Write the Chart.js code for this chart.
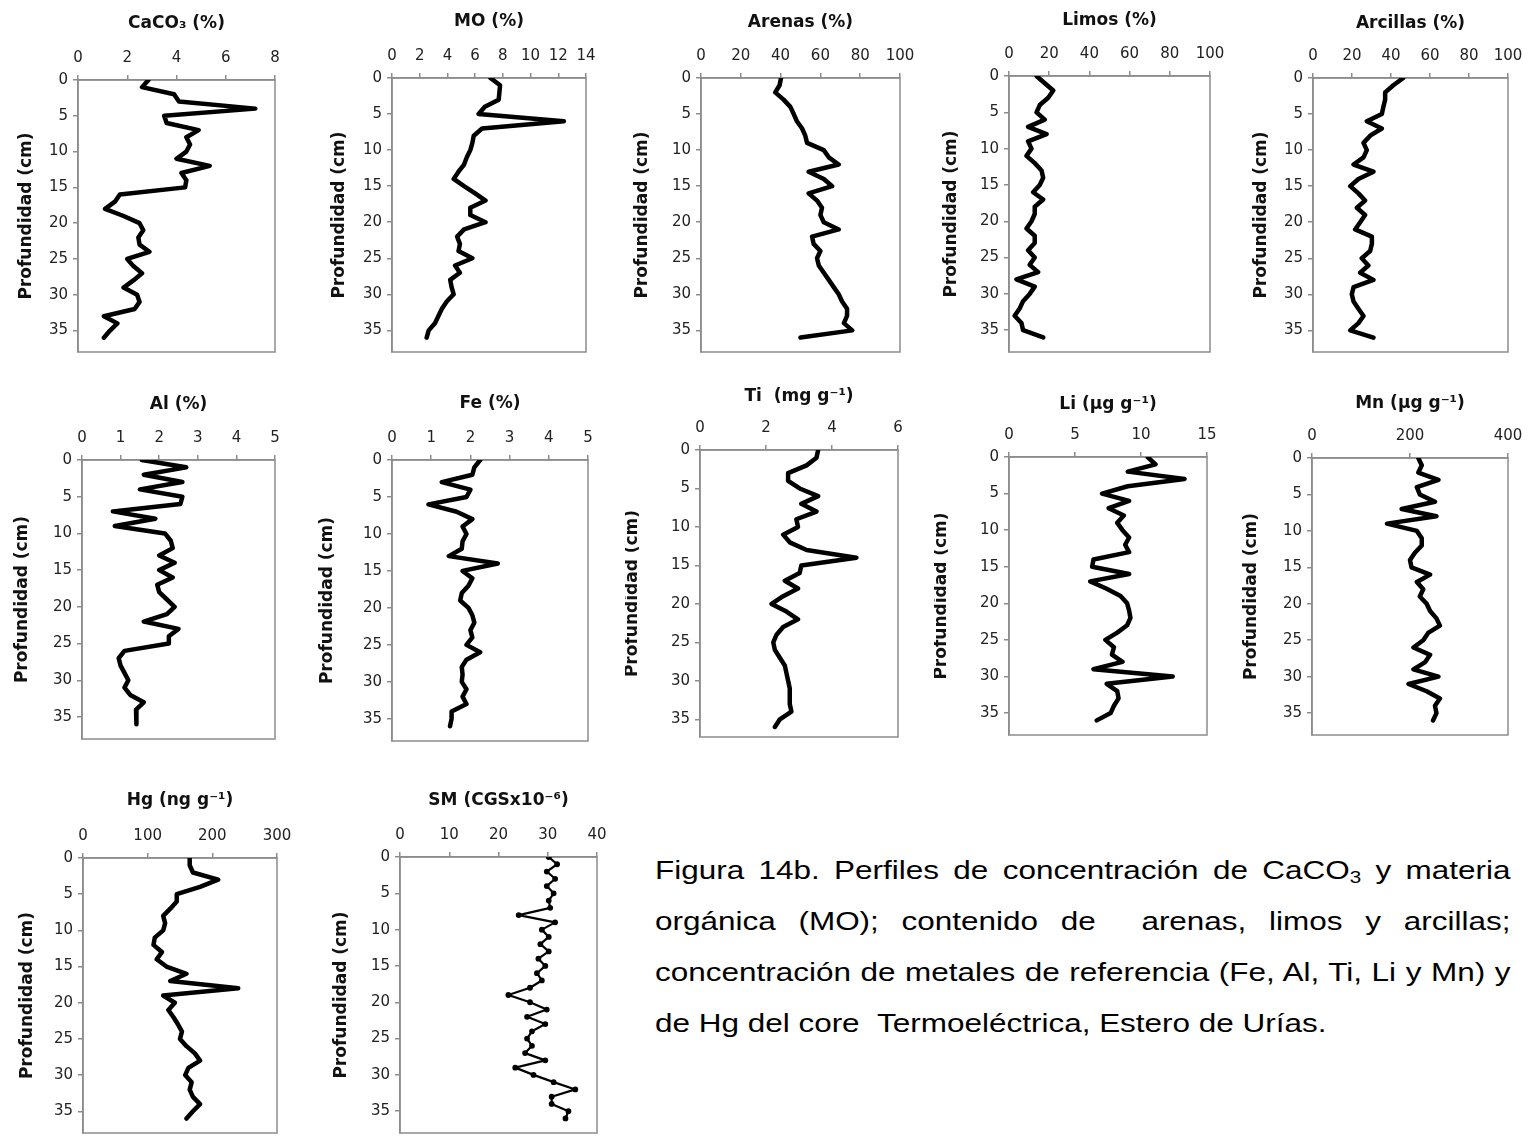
<!DOCTYPE html>
<html>
<head>
<meta charset="utf-8">
<script src="https://cdn.jsdelivr.net/npm/chart.js@4.4.0/dist/chart.umd.min.js"></script>
<style>
    body { margin: 0; width: 1532px; height: 1136px; overflow: hidden; background: #fff; position: relative; }
    canvas { position: absolute; }
    .caption { position: absolute; left: 655px; top: 845px; width: 707px; font-family: "Liberation Sans", Arial, sans-serif; font-size: 26px; line-height: 51px; color: #000; transform: scaleX(1.21); transform-origin: left top; }
    .caption div { height: 51px; text-align: justify; text-align-last: justify; }
    .caption div.last { text-align: left; text-align-last: left; }
    .caption sub { font-size: 17px; line-height: 0; vertical-align: -4px; }
</style>
</head>
<body>
<div class="caption">
    <div>Figura 14b. Perfiles de concentración de CaCO<sub>3</sub> y materia</div>
    <div>orgánica (MO); contenido de &nbsp;arenas, limos y arcillas;</div>
    <div>concentración de metales de referencia (Fe, Al, Ti, Li y Mn) y</div>
    <div class="last">de Hg del core &nbsp;Termoeléctrica, Estero de Urías.</div>
</div>
<script>
// profundidad (cm)
const depth = [0, 1, 2, 3, 4, 5, 6, 7, 8, 9, 10, 11, 12, 13, 14, 15, 16, 17, 18, 19, 20, 21, 22, 23, 24, 25, 26, 27, 28, 29, 30, 31, 32, 33, 34, 35, 36];

const caco3 = [2.86, 2.6, 3.9, 4.1, 7.2, 3.5, 3.6, 4.9, 4.4, 4.55, 4.4, 4.0, 5.35, 4.2, 4.4, 4.35, 1.7, 1.5, 1.1, 1.85, 2.5, 2.65, 2.45, 2.5, 2.9, 2.0, 2.25, 2.6, 2.25, 1.85, 2.4, 2.5, 2.3, 1.05, 1.6, 1.3, 1.05];
const mo = [7.1, 7.8, 7.75, 7.7, 6.7, 6.25, 12.4, 6.5, 5.9, 5.8, 5.65, 5.4, 5.2, 4.8, 4.45, 5.2, 6.0, 6.75, 5.65, 5.65, 6.75, 5.2, 4.7, 4.9, 4.8, 5.8, 4.55, 4.9, 4.2, 4.3, 4.45, 3.95, 3.6, 3.35, 3.1, 2.65, 2.5];
const arenas = [40.2, 39.5, 37.3, 41.5, 44.9, 46.6, 48.2, 50.8, 52.4, 53.3, 61.7, 64.2, 69.2, 54.1, 61.7, 65.9, 54.1, 58.3, 60.8, 60.0, 61.7, 69.2, 55.8, 56.6, 60.0, 58.3, 59.2, 61.7, 64.2, 66.7, 69.2, 70.9, 73.4, 73.4, 71.8, 76.0, 50.0];
const limos = [13.7, 17.8, 22.0, 19.5, 15.3, 13.7, 17.8, 9.5, 18.7, 9.5, 11.2, 8.7, 12.8, 16.2, 17.0, 15.3, 12.0, 17.0, 12.8, 12.8, 11.2, 8.7, 12.8, 12.8, 9.5, 12.8, 10.3, 14.5, 3.7, 12.8, 10.3, 7.0, 5.3, 2.8, 6.2, 7.0, 17.0];
const arcillas = [46.3, 41.2, 37.0, 37.0, 36.1, 35.3, 27.6, 35.3, 29.3, 25.9, 27.6, 25.9, 20.8, 31.0, 23.3, 19.1, 23.3, 26.7, 22.5, 26.7, 24.2, 21.6, 30.2, 30.2, 29.3, 25.0, 28.4, 24.2, 31.0, 20.8, 19.9, 20.8, 23.3, 25.9, 23.3, 19.1, 31.0];
const al = [1.55, 2.7, 1.6, 2.6, 1.5, 2.6, 2.55, 0.8, 1.9, 0.85, 2.15, 2.3, 2.35, 2.0, 2.4, 2.0, 2.35, 1.95, 2.0, 2.2, 2.4, 2.2, 1.6, 2.5, 2.25, 2.25, 1.1, 0.95, 1.0, 1.1, 1.2, 1.1, 1.25, 1.6, 1.4, 1.4, 1.42];
const fe = [2.25, 2.1, 2.05, 1.27, 2.0, 1.9, 0.93, 1.65, 2.05, 1.8, 1.9, 1.8, 1.78, 1.45, 2.7, 1.8, 2.05, 1.95, 1.78, 1.74, 1.95, 2.05, 2.1, 2.0, 2.05, 1.9, 2.25, 1.9, 1.78, 1.8, 1.78, 1.9, 1.8, 1.9, 1.52, 1.52, 1.48];
const ti = [3.58, 3.53, 3.23, 2.67, 2.67, 3.02, 3.58, 3.07, 3.53, 2.92, 2.97, 2.52, 2.72, 3.23, 4.74, 3.07, 3.02, 2.57, 2.97, 2.52, 2.17, 2.62, 2.97, 2.52, 2.32, 2.22, 2.27, 2.42, 2.57, 2.62, 2.67, 2.72, 2.72, 2.72, 2.77, 2.42, 2.27];
const li = [10.5, 11.1, 9.0, 13.3, 9.0, 7.05, 9.1, 7.55, 8.7, 8.2, 8.6, 9.1, 8.8, 9.1, 6.4, 6.3, 9.1, 6.15, 7.4, 8.45, 8.95, 9.1, 9.2, 8.95, 8.2, 7.3, 7.95, 7.8, 8.6, 6.4, 12.4, 7.4, 8.2, 8.3, 7.95, 7.7, 6.65];
const mn = [217, 224, 217, 258, 214, 220, 251, 183, 254, 153, 214, 224, 224, 210, 200, 203, 241, 214, 227, 220, 234, 241, 254, 261, 237, 227, 207, 241, 231, 207, 258, 197, 234, 261, 251, 254, 247];
const hg = [165, 165, 170, 209, 181, 145, 145, 135, 124, 127, 124, 111, 109, 122, 114, 129, 160, 135, 240, 124, 142, 132, 140, 147, 153, 150, 160, 173, 181, 163, 158, 168, 165, 170, 181, 170, 160];
const sm = [30.2, 31.9, 29.8, 31.5, 29.8, 31.2, 30.2, 30.5, 24.1, 31.5, 28.8, 30.2, 28.5, 30.2, 28.1, 29.5, 27.8, 28.8, 26.4, 22.0, 26.4, 29.8, 25.8, 29.5, 26.8, 25.8, 26.8, 25.4, 29.5, 23.4, 27.1, 31.2, 35.6, 30.8, 30.8, 34.2, 33.6];

// l, t, r, b = plot area on the page; yt / xt = distance from axis to axis title
const panels = [
    { values: caco3, title: "CaCO₃ (%)", max: 8, step: 2, l: 78, t: 80, r: 275, b: 358, ymax: 38, yt: 51, xt: 56 },
    { values: mo, title: "MO (%)", max: 14, step: 2, l: 392, t: 78, r: 586, b: 358, ymax: 38, yt: 52, xt: 56 },
    { values: arenas, title: "Arenas (%)", max: 100, step: 20, l: 701, t: 78, r: 900, b: 358, ymax: 38, yt: 58, xt: 55 },
    { values: limos, title: "Limos (%)", max: 100, step: 20, l: 1009, t: 76, r: 1210, b: 358, ymax: 38, yt: 57, xt: 55 },
    { values: arcillas, title: "Arcillas (%)", max: 100, step: 20, l: 1313, t: 78, r: 1508, b: 358, ymax: 38, yt: 51, xt: 54 },
    { values: al, title: "Al (%)", max: 5, step: 1, l: 82, t: 460, r: 275, b: 745, ymax: 38, yt: 59, xt: 55 },
    { values: fe, title: "Fe (%)", max: 5, step: 1, l: 392, t: 460, r: 588, b: 747, ymax: 38, yt: 64, xt: 56 },
    { values: ti, title: "Ti  (mg g⁻¹)", max: 6, step: 2, l: 700, t: 450, r: 898, b: 743, ymax: 37.3, yt: 67, xt: 53 },
    { values: li, title: "Li (µg g⁻¹)", max: 15, step: 5, l: 1009, t: 457, r: 1207, b: 741, ymax: 38, yt: 67, xt: 52 },
    { values: mn, title: "Mn (µg g⁻¹)", max: 400, step: 200, l: 1312, t: 458, r: 1508, b: 741, ymax: 38, yt: 60, xt: 54 },
    { values: hg, title: "Hg (ng g⁻¹)", max: 300, step: 100, l: 83, t: 858, r: 277, b: 1139, ymax: 38, yt: 55, xt: 57 },
    { values: sm, title: "SM (CGSx10⁻⁶)", max: 40, step: 10, l: 400, t: 857, r: 597, b: 1139, ymax: 38, yt: 58, xt: 56, thin: true },
];

const AXW = 75;
const AXH = 75;
const PADR = 25;
const PADB = 8;
const FONT = "'DejaVu Sans', Arial, sans-serif";

const frame = {
    id: "frame",
    beforeDatasetsDraw(chart) {
        const a = chart.chartArea;
        const ctx = chart.ctx;
        ctx.save();
        ctx.strokeStyle = "#8c8c8c";
        ctx.lineWidth = 1.5;
        ctx.strokeRect(a.left, a.top, a.right - a.left, a.bottom - a.top);
        ctx.restore();
    },
};

function drawPanel(p) {
    const canvas = document.createElement("canvas");
    const w = p.r - p.l + AXW + PADR;
    const h = p.b - p.t + AXH + PADB;
    canvas.width = w;
    canvas.height = h;
    canvas.style.left = p.l - AXW + "px";
    canvas.style.top = p.t - AXH + "px";
    canvas.style.width = w + "px";
    canvas.style.height = h + "px";
    document.body.appendChild(canvas);

    const points = depth.map((d, i) => ({ x: p.values[i], y: d }));

    new Chart(canvas, {
        type: "scatter",
        data: {
            datasets: [
                {
                    data: points,
                    showLine: true,
                    borderColor: "#000",
                    backgroundColor: "#000",
                    borderWidth: p.thin ? 2.2 : 4.5,
                    borderJoinStyle: "round",
                    borderCapStyle: "round",
                    pointRadius: p.thin ? 1.8 : 0,
                    tension: 0,
                },
            ],
        },
        options: {
            responsive: false,
            animation: false,
            layout: { padding: { top: 0, left: 0, right: PADR, bottom: PADB } },
            plugins: { legend: { display: false }, tooltip: { enabled: false } },
            scales: {
                x: {
                    type: "linear",
                    position: "top",
                    min: 0,
                    max: p.max,
                    afterFit: (s) => { s.height = AXH; },
                    ticks: { stepSize: p.step, padding: 8, color: "#222", font: { family: FONT, size: 15 } },
                    grid: { drawOnChartArea: false, tickLength: 5, color: "#8c8c8c", lineWidth: 1.5 },
                    border: { color: "#8c8c8c", width: 1.5 },
                    title: {
                        display: true,
                        text: p.title,
                        color: "#111",
                        font: { family: FONT, size: 17, weight: "bold" },
                        padding: { top: AXH - p.xt - 10.2, bottom: 0 },
                    },
                },
                y: {
                    type: "linear",
                    reverse: true,
                    min: 0,
                    max: p.ymax,
                    afterFit: (s) => { s.width = AXW; },
                    ticks: { stepSize: 5, includeBounds: false, padding: 5, color: "#222", font: { family: FONT, size: 15 } },
                    grid: { drawOnChartArea: false, tickLength: 5, color: "#8c8c8c", lineWidth: 1.5 },
                    border: { color: "#8c8c8c", width: 1.5 },
                    title: {
                        display: true,
                        text: "Profundidad (cm)",
                        color: "#111",
                        font: { family: FONT, size: 17, weight: "bold" },
                        padding: { top: AXW - p.yt - 10.2, bottom: 0 },
                    },
                },
            },
        },
        plugins: [frame],
    });
}

panels.forEach(drawPanel);
</script>
</body>
</html>
